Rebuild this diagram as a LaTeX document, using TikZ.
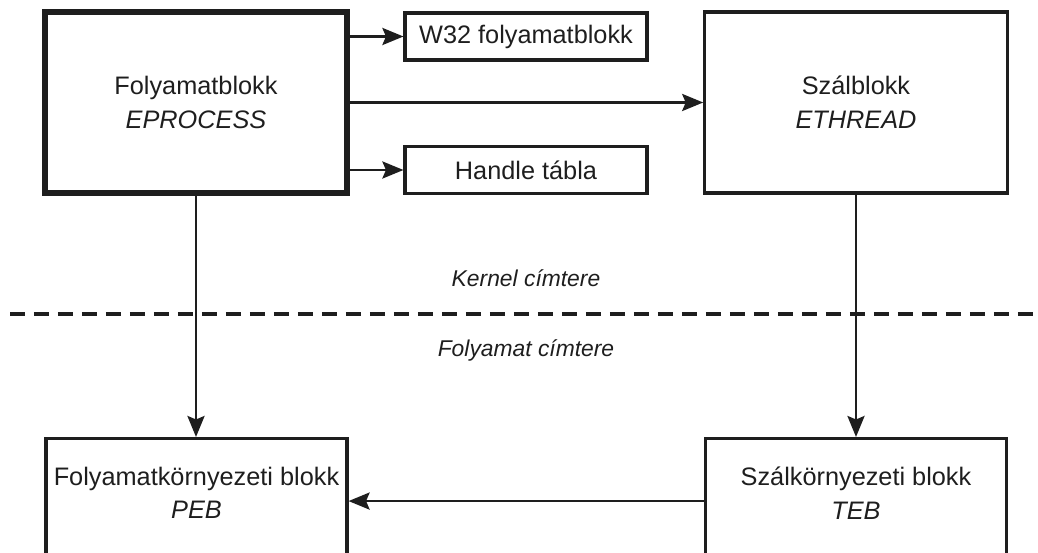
\documentclass[tikz,border=0pt]{standalone}
\usepackage{fontspec}
\setmainfont{Liberation Sans}
\usepackage{xcolor}
\usetikzlibrary{arrows.meta,positioning}
\definecolor{linegray}{RGB}{30,30,30}
\tikzset{
  block/.style={rectangle, draw=linegray, line width=1.8pt, align=center,
                font=\fontsize{14.4}{19.3}\selectfont, inner sep=2pt, text=linegray},
  bigblock/.style={block, minimum width=6.05cm, minimum height=3.62cm},
  smallblock/.style={block, minimum width=4.84cm, minimum height=0.94cm},
  cutblock/.style={block, minimum width=6.02cm, minimum height=2.5cm,
                   text depth=0.33cm, anchor=north},
  arrow/.style={-{Stealth[length=4.2mm, width=3.4mm, inset=0.7mm]}, line width=1.6pt, linegray},
  sep/.style={line width=2pt, linegray, dash pattern=on 0.3cm off 0.18cm},
  lbl/.style={font=\fontsize{13}{16}\selectfont\itshape, text=linegray, align=center},
}

\begin{document}
\begin{tikzpicture}[x=0.02cm, y=-0.02cm]
  \useasboundingbox (0,0) rectangle (1038,553);
  % kernel side
  \node[bigblock, line width=3.2pt] (eproc) at (196,102.5) {Folyamatblokk\\\textit{EPROCESS}};
  \node[smallblock] (w32) at (526,36.5) {W32 folyamatblokk};
  \node[smallblock] (handle) at (526,170) {Handle tábla};
  \node[bigblock] (ethread) at (856,102.5) {Szálblokk\\\textit{ETHREAD}};
  % user side
  \node[cutblock] (peb) at (196.5,437) {Folyamatkörnyezeti blokk\\\textit{PEB}};
  \node[cutblock] (teb) at (856,437) {Szálkörnyezeti blokk\\\textit{TEB}};
  % address space border
  \coordinate (sepL) at (10,314);
  \coordinate (sepR) at (1038,314);
  \draw[sep] (sepL) -- (sepR);
  \node[lbl] (kernel) at (526,278) {Kernel címtere};
  \node[lbl] (user) at (526,350) {Folyamat címtere};
  % links
  \draw[arrow] (eproc.east |- w32) -- (w32);
  \draw[arrow] (eproc) -- (ethread);
  \draw[arrow] (eproc.east |- handle) -- (handle);
  \draw[arrow] (eproc.south) -- (eproc.south |- peb.north);
  \draw[arrow] (ethread.south) -- (teb.north);
  \draw[arrow] (teb) -- (peb);
\end{tikzpicture}
\end{document}
